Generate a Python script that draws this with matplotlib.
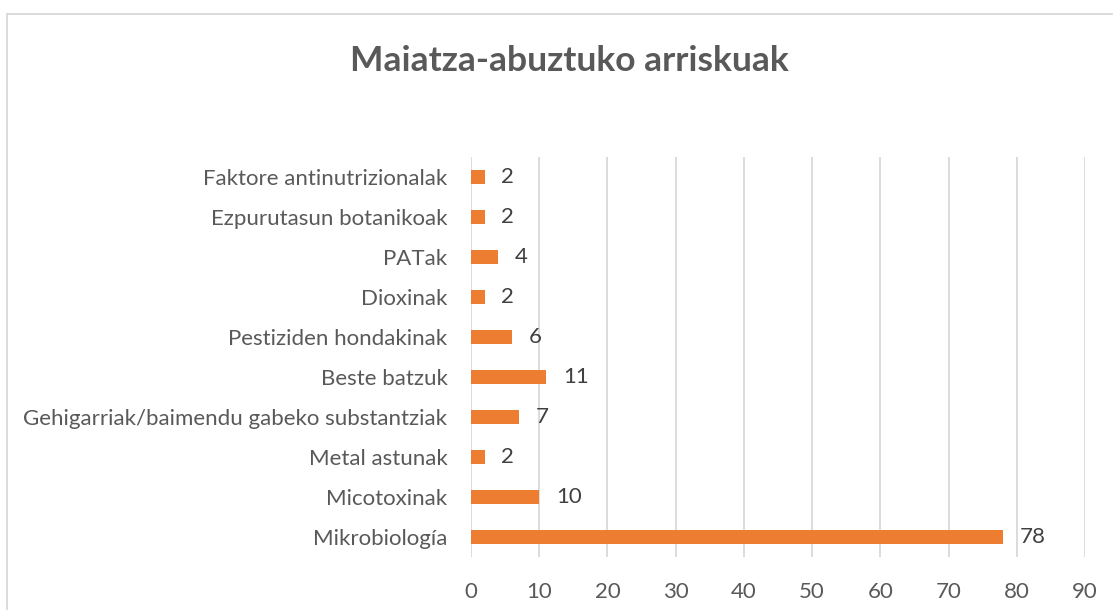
import matplotlib.pyplot as plt
from matplotlib.lines import Line2D

# Categories listed from bottom to top, as drawn on the y axis
categories = [
    'Mikrobiología',
    'Micotoxinak',
    'Metal astunak',
    'Gehigarriak/baimendu gabeko substantziak',
    'Beste batzuk',
    'Pestiziden hondakinak',
    'Dioxinak',
    'PATak',
    'Ezpurutasun botanikoak',
    'Faktore antinutrizionalak',
]
counts = [78, 10, 2, 7, 11, 6, 2, 4, 2, 2]
x_ticks = [0, 10, 20, 30, 40, 50, 60, 70, 80, 90]

title = 'Maiatza-abuztuko arriskuak'
bar_color = '#ED7D31'
text_color = '#595959'
grid_color = '#D9D9D9'

plt.rcParams['font.family'] = ['Lato', 'DejaVu Sans']

W, H = 1113, 610
fig = plt.figure(figsize=(W / 100, H / 100), dpi=100)
ax = fig.add_axes([471 / W, 1 - 557 / H, (1085 - 471) / W, (557 - 157) / H])

bars = ax.barh(range(len(categories)), counts, height=0.33, color=bar_color)
ax.bar_label(bars, padding=12, color='#404040', fontsize=16)

ax.set_ylim(-0.5, len(categories) - 0.5)
ax.set_xlim(x_ticks[0], x_ticks[-1])
ax.set_xticks(x_ticks)
ax.set_yticks(range(len(categories)))
ax.set_yticklabels(categories)

ax.grid(axis='x', color=grid_color, linewidth=1.3)
ax.set_axisbelow(True)
for s in ax.spines.values():
    s.set_visible(False)
ax.tick_params(axis='both', length=0, colors=text_color, labelsize=16)
ax.tick_params(axis='y', pad=17)
ax.tick_params(axis='x', pad=18)

fig.text(0.512, 1 - 61 / H, title, ha='center', va='center',
         fontsize=25.5, fontweight='bold', color=text_color)

# chart frame (only top and left edges are visible in the crop)
fig.add_artist(Line2D([7 / W, 1], [1 - 14 / H, 1 - 14 / H],
                      transform=fig.transFigure, color=grid_color, lw=1.3))
fig.add_artist(Line2D([7 / W, 7 / W], [0, 1 - 14 / H],
                      transform=fig.transFigure, color=grid_color, lw=1.3))

fig.savefig('out.png', dpi=100)
